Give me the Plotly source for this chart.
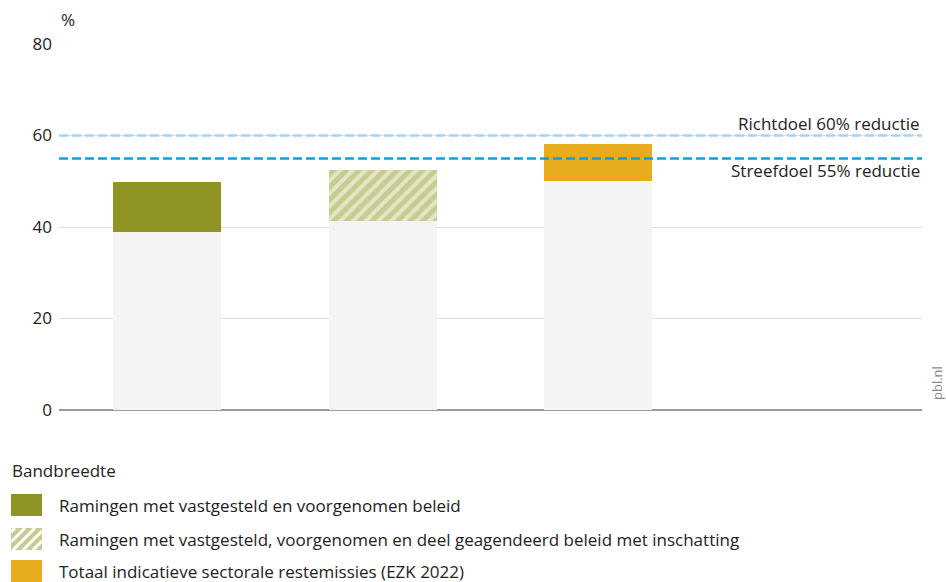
import plotly.graph_objects as go

# Data
categories = ["a", "b", "c", "d"]
base_values = [38.9, 41.3, 50.0, None]
top_values = [49.8, 52.5, 58.2, None]
target_values = [60, 55]
target_labels = ["Richtdoel 60% reductie", "Streefdoel 55% reductie"]
legend_title = "Bandbreedte"
legend_labels = [
    "Ramingen met vastgesteld en voorgenomen beleid",
    "Ramingen met vastgesteld, voorgenomen en deel geagendeerd beleid met inschatting",
    "Totaal indicatieve sectorale restemissies (EZK 2022)",
]
y_ticks = [0, 20, 40, 60, 80]

OLIVE = "#8f9424"
HATCH = "#c9ca8f"
ORANGE = "#e6ac1e"
BASE = "#f4f4f4"
LIGHT_BLUE = "#a3d3f5"
BLUE = "#0e9fe0"
TEXT = "#222222"
FONT = "Open Sans"
FS = 17

W, H = 946, 582
L, R, T, B = 59, 24, 44, 172
PW, PH = W - L - R, H - T - B


def px(x):
    return (x - L) / PW


def py(y):
    return (H - B - y) / PH


segments = [
    None if b is None else round(t - b, 2) for b, t in zip(base_values, top_values)
]

fig = go.Figure()

fig.add_trace(
    go.Bar(x=categories, y=base_values, marker=dict(color=BASE, line_width=0), width=0.5)
)
fig.add_trace(
    go.Bar(
        x=categories,
        y=[segments[0], None, None, None],
        marker=dict(color=OLIVE, line_width=0),
        width=0.5,
    )
)
fig.add_trace(
    go.Bar(
        x=categories,
        y=[None, segments[1], None, None],
        marker=dict(
            color=HATCH,
            line_width=0,
            pattern=dict(shape="/", fgcolor="white", bgcolor=HATCH, size=9, solidity=0.45, fillmode="overlay"),
        ),
        width=0.5,
    )
)
fig.add_trace(
    go.Bar(
        x=categories,
        y=[None, None, segments[2], None],
        marker=dict(color=ORANGE, line_width=0),
        width=0.5,
    )
)

# Target lines
for val, color in zip(target_values, [LIGHT_BLUE, BLUE]):
    fig.add_shape(
        type="line", xref="paper", yref="y", x0=0, x1=1, y0=val, y1=val,
        line=dict(color=color, width=2.5, dash="9px,4px"), layer="above",
    )

fig.add_annotation(
    x=1, y=target_values[0], xref="paper", yref="y", text=target_labels[0],
    xanchor="right", yanchor="bottom", showarrow=False, yshift=-1,
    font=dict(size=FS, color=TEXT),
)
fig.add_annotation(
    x=1, y=target_values[1], xref="paper", yref="y", text=target_labels[1],
    xanchor="right", yanchor="top", showarrow=False, yshift=1,
    font=dict(size=FS, color=TEXT),
)

# Unit label and source
fig.add_annotation(
    x=0, y=py(19), xref="paper", yref="paper", text="%", xanchor="left",
    yanchor="middle", showarrow=False, font=dict(size=FS, color=TEXT),
)
fig.add_annotation(
    x=px(937), y=py(383), xref="paper", yref="paper", text="pbl.nl", textangle=-90,
    xanchor="center", yanchor="middle", showarrow=False, font=dict(size=13, color="#888888"),
)

# Custom legend
fig.add_annotation(
    x=px(10), y=py(470), xref="paper", yref="paper", text=legend_title, xanchor="left",
    yanchor="middle", showarrow=False, font=dict(size=FS, color=TEXT),
)
swatch_y = [505, 539, 571]
for i, (label, yc) in enumerate(zip(legend_labels, swatch_y)):
    color = [OLIVE, HATCH, ORANGE][i]
    fig.add_shape(
        type="rect", xref="paper", yref="paper", x0=px(11), x1=px(42),
        y0=py(yc - 11), y1=py(yc + 11), fillcolor=color, line_width=0,
    )
    if i == 1:
        # diagonal white stripes for hatched swatch
        sx, sy, sw, sh = 11, yc + 11, 31, 22
        for c in range(-sh + 4, sw, 10):
            u0, u1 = max(0, c), min(sw, sh + c)
            if u1 <= u0:
                continue
            fig.add_shape(
                type="line", xref="paper", yref="paper",
                x0=px(sx + u0), y0=py(sy - (u0 - c)), x1=px(sx + u1), y1=py(sy - (u1 - c)),
                line=dict(color="white", width=3),
            )
    fig.add_annotation(
        x=px(57), y=py(yc), xref="paper", yref="paper", text=label, xanchor="left",
        yanchor="middle", showarrow=False, font=dict(size=FS, color=TEXT),
    )

fig.update_layout(
    width=W, height=H, barmode="stack", showlegend=False,
    plot_bgcolor="white", paper_bgcolor="white",
    margin=dict(l=L, r=R, t=T, b=B),
    font=dict(family=FONT, size=FS, color=TEXT),
    bargap=0.5,
)
fig.update_xaxes(showticklabels=False, showgrid=False, range=[-0.5, 3.5], zeroline=False)
fig.update_yaxes(
    range=[0, 80], tickvals=y_ticks, showgrid=True, gridcolor="#dddddd", gridwidth=1,
    zeroline=True, zerolinecolor="#999999", zerolinewidth=1.5, ticks="", ticklabelstandoff=6,
    tickfont=dict(size=FS, color=TEXT),
)

fig.write_html(
    "out.html",
    config={"displayModeBar": False},
    post_script="document.body.style.margin='0';",
)
